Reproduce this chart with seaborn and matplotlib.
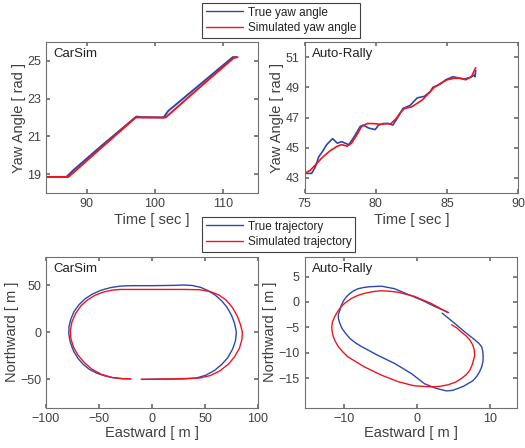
import numpy as np
import pandas as pd
import seaborn as sns
import matplotlib.pyplot as plt
from matplotlib.lines import Line2D

# yaw angle, CarSim
cs_t_true = [84, 87, 88, 92, 97.3, 98, 101.3, 102, 106, 111.5, 112]
cs_y_true = [18.85, 18.85, 19.2, 20.45, 22.05, 22.02, 22.0, 22.35, 23.55, 25.2, 25.2]
cs_t_sim = [84, 87.3, 92, 97.2, 101.6, 106, 111.6, 112.2]
cs_y_sim = [18.85, 18.85, 20.35, 22.0, 22.0, 23.4, 25.15, 25.2]

# yaw angle, Auto-Rally
ar_t_true = [75, 75.5, 75.75, 76.0, 76.3, 76.55, 76.97, 77.3, 77.6, 78.1, 78.4, 78.9,
             79.1, 79.5, 79.95, 80.2, 80.5, 80.9, 81.2, 81.6, 81.9, 82.4, 82.7, 82.9,
             83.4, 83.8, 84.0, 84.5, 84.9, 85.4, 85.9, 86.2, 86.6, 86.9, 86.95, 87.0]
ar_y_true = [43.3, 43.3, 43.7, 44.4, 44.8, 45.2, 45.6, 45.3, 45.4, 45.2, 45.6, 46.4,
             46.5, 46.3, 46.2, 46.5, 46.6, 46.6, 46.5, 47.1, 47.6, 47.8, 48.1, 48.3,
             48.4, 48.7, 49.0, 49.2, 49.5, 49.7, 49.6, 49.55, 49.65, 49.8, 49.7, 50.1]
ar_t_sim = [75, 75.4, 75.9, 76.3, 76.8, 77.3, 77.6, 78.0, 78.3, 78.7, 79.0, 79.4, 79.8,
            80.3, 80.8, 81.0, 81.4, 81.7, 82.0, 82.5, 83.0, 83.3, 83.7, 84.1, 84.6,
            85.0, 85.5, 85.9, 86.3, 86.7, 87.0]
ar_y_sim = [43.3, 43.5, 44.0, 44.4, 44.8, 45.1, 45.2, 45.1, 45.3, 45.9, 46.4, 46.6, 46.6,
            46.55, 46.6, 46.55, 46.9, 47.3, 47.6, 47.7, 48.0, 48.2, 48.6, 49.0, 49.3,
            49.5, 49.6, 49.6, 49.5, 49.7, 50.3]

# trajectory, CarSim
cs_e_true = [-20, -28, -36, -44, -52, -59, -65, -70, -74, -77, -78.5, -78.3, -76.5, -73.5,
             -69, -63, -56, -48, -39, -30, -20, 0, 20, 30, 38, 46, 53, 60, 66, 71, 75, 78,
             79.6, 78.8, 76, 71.5, 66, 59, 51, 42, 30, 10, -10]
cs_n_true = [-49.5, -49.2, -48.3, -46.5, -43.5, -39.5, -34, -27.5, -20, -11, -2, 6, 14, 22,
             29, 35.5, 40.5, 44.5, 47.3, 48.8, 49.3, 49.3, 49.6, 50, 49.5, 47.5, 44, 39, 33,
             26, 18, 9, 0, -9, -18, -27, -34, -40.5, -45.5, -48.5, -49.5, -49.8, -50]
cs_e_sim = [-10, 10, 30, 45, 55, 64, 72, 78, 82.5, 84.8, 85.3, 83.5, 80.5, 76, 70, 63, 55,
            45, 30, 0, -30, -38, -46, -54, -61, -67, -72, -75.5, -77, -76.5, -74, -70,
            -64, -57, -48, -38, -28, -20]
cs_n_sim = [-50, -49.6, -49.2, -48.6, -46, -41, -34, -26, -17, -8, 0, 8, 17, 26, 34, 39.5,
            43, 45, 45.3, 45.3, 45.3, 44.5, 42.5, 39, 34, 28, 20, 11, 2, -7, -16, -24,
            -32, -39, -44.5, -48, -49.3, -49.3]

# trajectory, Auto-Rally
ar_e_true = [4.3, 2.4, 0.55, -1.3, -3.1, -4.9, -6.5, -7.3, -8.1, -8.7, -9.2, -9.7, -10.1,
             -10.4, -10.6, -10.8, -10.8, -10.6, -10.3, -9.8, -9.2, -8.5, -7.6, -5.4, -3.1,
             -0.8, 1.0, 2.6, 4.0, 4.8, 5.6, 6.3, 6.9, 7.6, 8.1, 8.5, 8.8, 9.0, 9.0, 8.95,
             8.8, 8.4, 7.9, 6.5, 5.1, 4.0, 3.4]
ar_n_true = [-2.1, -0.9, 0.4, 1.5, 2.6, 3.1, 3.0, 2.85, 2.6, 2.2, 1.7, 1.0, 0.2,
             -0.7, -1.6, -2.5, -3.2, -4.2, -5.2, -6.2, -7.2, -8.0, -8.8, -10.5, -12.1,
             -14.1, -16.1, -17.0, -17.5, -17.4, -17.0, -16.6, -16.1, -15.5, -14.7, -13.8,
             -12.8, -11.6, -10.5, -9.6, -8.8, -8.1, -7.5, -5.9, -4.2, -2.9, -2.2]
ar_e_sim = [4.7, 5.4, 6.0, 6.7, 7.2, 7.6, 7.8, 7.85, 7.7, 7.5, 7.2, 6.7, 6.0, 5.2, 4.2,
            3.1, 1.9, -0.4, -2.6, -4.9, -7.2, -9.5, -10.2, -10.8, -11.2, -11.5, -11.65,
            -11.7, -11.6, -11.3, -10.9, -10.4, -9.8, -9.0, -8.1, -7.2, -6.0, -4.9, -3.7,
            -2.6, -0.4, 1.9, 4.2]
ar_n_sim = [-4.5, -5.1, -5.9, -6.7, -7.5, -8.5, -9.5, -10.5, -11.4, -12.4, -13.4, -14.3,
            -15.1, -15.8, -16.3, -16.6, -16.7, -16.5, -15.7, -14.4, -12.8, -10.8, -9.8,
            -8.8, -7.8, -6.8, -5.8, -4.9, -3.9, -2.9, -1.9, -0.9, -0.1, 0.7, 1.3, 1.7,
            2.05, 2.2, 2.1, 1.9, 1.1, -0.3, -2.1]

BLUE = '#2a48b0'
RED = '#f0141e'
TXT = '#404040'

sns.set_theme(style='white')
plt.rcParams['font.family'] = ['Liberation Sans', 'DejaVu Sans']
plt.rcParams.update({
    'axes.edgecolor': '#707070', 'axes.linewidth': 0.8,
    'xtick.direction': 'in', 'ytick.direction': 'in',
    'xtick.top': True, 'ytick.right': True,
    'xtick.bottom': True, 'ytick.left': True,
    'xtick.color': '#707070', 'ytick.color': '#707070',
    'xtick.labelcolor': TXT, 'ytick.labelcolor': TXT,
    'xtick.labelsize': 9, 'ytick.labelsize': 9,
    'xtick.major.size': 3, 'ytick.major.size': 3,
    'axes.labelcolor': TXT, 'axes.labelsize': 10.5,
})

fig = plt.figure(figsize=(5.25, 4.48), dpi=100)
ax1 = fig.add_axes([0.0876, 0.5692, 0.4038, 0.337])
ax2 = fig.add_axes([0.580, 0.5692, 0.4076, 0.337])
ax3 = fig.add_axes([0.0876, 0.0900, 0.4038, 0.337])
ax4 = fig.add_axes([0.5804, 0.0900, 0.4038, 0.337])


def draw(ax, x1, y1, x2, y2, lw):
    sns.lineplot(x=x1, y=y1, ax=ax, sort=False, estimator=None, color=BLUE, lw=lw)
    sns.lineplot(x=x2, y=y2, ax=ax, sort=False, estimator=None, color=RED, lw=lw)


draw(ax1, cs_t_true, cs_y_true, cs_t_sim, cs_y_sim, 1.4)
draw(ax2, ar_t_true, ar_y_true, ar_t_sim, ar_y_sim, 1.2)
draw(ax3, cs_e_true, cs_n_true, cs_e_sim, cs_n_sim, 1.0)
draw(ax4, ar_e_true, ar_n_true, ar_e_sim, ar_n_sim, 1.0)

ax1.set(xlim=(84, 115.2), ylim=(18, 26), xticks=[90, 100, 110], yticks=[19, 21, 23, 25])
ax2.set(xlim=(75, 90), ylim=(42, 52), xticks=[75, 80, 85, 90], yticks=[43, 45, 47, 49, 51])
ax3.set(xlim=(-100, 100), ylim=(-80, 80), xticks=[-100, -50, 0, 50, 100], yticks=[-50, 0, 50])
ax4.set(xlim=(-15.4, 13.6), ylim=(-20.8, 8.9), xticks=[-10, 0, 10], yticks=[-15, -10, -5, 0, 5])

for ax in (ax1, ax2):
    ax.set_xlabel('Time [ sec ]', labelpad=2)
    ax.set_ylabel('Yaw Angle [ rad ]', labelpad=1)
ax3.set_ylabel('Northward [ m ]', labelpad=1)
ax4.set_ylabel('Northward [ m ]', labelpad=1)
for ax in (ax3, ax4):
    ax.set_xlabel('Eastward [ m ]', labelpad=1)

for ax, name in ((ax1, 'CarSim'), (ax2, 'Auto-Rally'), (ax3, 'CarSim'), (ax4, 'Auto-Rally')):
    ax.text(0.035, 0.96, name, transform=ax.transAxes, ha='left', va='top',
            fontsize=9.5, color='#222222')
    for s in ax.spines.values():
        s.set_visible(True)

h = [Line2D([], [], color=BLUE, lw=1), Line2D([], [], color=RED, lw=1)]
legkw = dict(loc='upper left', fontsize=8.5, frameon=True, fancybox=False, framealpha=1,
             edgecolor='#404040', borderaxespad=0, handlelength=3.2, handletextpad=0.4,
             borderpad=0.3, labelspacing=0.3, labelcolor='#222222')
l1 = fig.legend(h, ['True yaw angle', 'Simulated yaw angle'],
                bbox_to_anchor=(202 / 525, 1 - 3 / 448), **legkw)
l2 = fig.legend(h, ['True trajectory', 'Simulated trajectory'],
                bbox_to_anchor=(202 / 525, 1 - 217 / 448), **legkw)
for l in (l1, l2):
    l.get_frame().set_linewidth(0.8)

fig.savefig('out.png', dpi=100)
